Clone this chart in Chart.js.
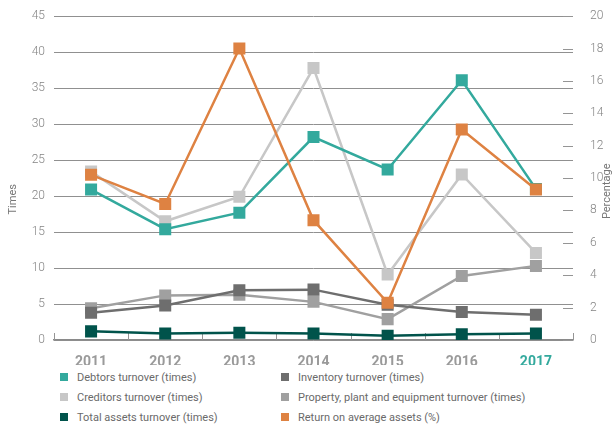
<!DOCTYPE html>
<html>
<head>
<meta charset="utf-8">
<script src="https://cdn.jsdelivr.net/npm/chart.js@4/dist/chart.umd.min.js"></script>
<style>
  html, body { margin: 0; padding: 0; background: #fff; }
  #wrap { position: relative; width: 614px; height: 429px; overflow: hidden; }
  #chart { position: absolute; left: 0; top: 0; }
  #legend {
    position: absolute; left: 60px; top: 367px;
    display: grid; grid-template-columns: 221px 300px;
    font-family: Roboto, "Liberation Sans", sans-serif; font-size: 11px; color: #6a6a6a;
  }
  .item { height: 20px; display: flex; align-items: center; white-space: nowrap; }
  .sw { width: 8px; height: 8px; margin-right: 9px; flex: none; }
</style>
</head>
<body>
<div id="wrap">
  <canvas id="chart" width="614" height="365"></canvas>
  <div id="legend"></div>
</div>
<script>
// Financial ratios 2011-2017
const years = ['2011', '2012', '2013', '2014', '2015', '2016', '2017'];
const debtorsTurnover   = [20.9, 15.4, 17.7, 28.2, 23.7, 36.1, 21.0];
const inventoryTurnover = [3.8, 4.8, 6.9, 7.0, 4.9, 3.9, 3.5];
const creditorsTurnover = [23.4, 16.5, 19.9, 37.8, 9.1, 23.0, 12.1];
const ppeTurnover       = [4.4, 6.2, 6.3, 5.3, 2.9, 8.9, 10.3];
const totalAssetsTurnover = [1.2, 0.9, 1.0, 0.9, 0.6, 0.8, 0.9];
const returnOnAssets    = [10.2, 8.4, 18.0, 7.4, 2.3, 13.0, 9.3];

const timesTicks = { min: 0, max: 45, step: 5 };
const percentTicks = { min: 0, max: 20, step: 2 };
const axisTitles = { left: 'Times', right: 'Percentage' };

function series(label, data, color, axis, order) {
  return {
    label, data, yAxisID: axis, order,
    borderColor: color, backgroundColor: color,
    borderWidth: 2.5, pointStyle: 'rect', pointRadius: 8.5,
    pointBorderWidth: 0, pointHoverRadius: 8.5, tension: 0
  };
}

// inward tick marks: category boundaries on the x axis, value marks on the right axis
const innerTicks = {
  id: 'innerTicks',
  beforeDatasetsDraw(chart) {
    const { ctx, chartArea, scales } = chart;
    ctx.save();
    ctx.strokeStyle = '#959595';
    ctx.lineWidth = 1;
    const x = scales.x;
    for (let i = 0; i <= years.length; i++) {
      const px = Math.round(x.getPixelForValue(i - 0.5)) + 0.5;
      ctx.beginPath();
      ctx.moveTo(px, chartArea.bottom);
      ctx.lineTo(px, chartArea.bottom - 7);
      ctx.stroke();
    }
    const y2 = scales.y2;
    y2.ticks.forEach(t => {
      const py = Math.round(y2.getPixelForValue(t.value)) + 0.5;
      ctx.beginPath();
      ctx.moveTo(chartArea.right - 10, py);
      ctx.lineTo(chartArea.right, py);
      ctx.stroke();
    });
    ctx.restore();
  }
};

// both axis titles read bottom-to-top
const sideTitles = {
  id: 'sideTitles',
  afterDraw(chart) {
    const { ctx, chartArea, width } = chart;
    const cy = chartArea.top + (chartArea.bottom - chartArea.top) * 0.55;
    ctx.save();
    ctx.fillStyle = '#777';
    ctx.font = '11px Roboto';
    ctx.textAlign = 'center';
    ctx.textBaseline = 'middle';
    [[13, cy + 5, axisTitles.left], [width - 7, cy - 3, axisTitles.right]].forEach(([x, y, t]) => {
      ctx.save();
      ctx.translate(x, y);
      ctx.rotate(-Math.PI / 2);
      ctx.fillText(t, 0, 0);
      ctx.restore();
    });
    ctx.restore();
  }
};

const chart = new Chart(document.getElementById('chart'), {
  type: 'line',
  data: {
    labels: years,
    datasets: [
      series('Debtors turnover (times)', debtorsTurnover, '#33a99d', 'y', 1),
      series('Inventory turnover (times)', inventoryTurnover, '#6e6e6e', 'y', 2),
      series('Creditors turnover (times)', creditorsTurnover, '#c7c7c7', 'y', 4),
      series('Property, plant and equipment turnover (times)', ppeTurnover, '#a0a0a0', 'y', 3),
      series('Total assets turnover (times)', totalAssetsTurnover, '#00534b', 'y', 5),
      series('Return on average assets (%)', returnOnAssets, '#de8242', 'y2', 0)
    ]
  },
  options: {
    responsive: false,
    animation: false,
    devicePixelRatio: 1,
    layout: { padding: { top: 15, bottom: 0, left: 0, right: 0 } },
    plugins: { legend: { display: false }, tooltip: { enabled: false } },
    scales: {
      x: {
        offset: true,
        grid: { display: false },
        border: { display: true, color: '#8a8a8a', width: 1.5 },
        ticks: {
          padding: 6,
          font: { family: 'Roboto', size: 14, weight: 'bold' },
          color: ctx => ctx.index === years.length - 1 ? '#33a99d' : '#9a9a9a'
        },
        afterFit: s => { s.height = 25; }
      },
      y: {
        position: 'left',
        min: timesTicks.min, max: timesTicks.max,
        grid: { color: '#909090', lineWidth: 1, drawTicks: false },
        border: { display: false },
        ticks: {
          stepSize: timesTicks.step, padding: 9,
          font: { family: 'Roboto', size: 12, weight: 300 }, color: '#858585'
        },
        afterFit: s => { s.width = 54; }
      },
      y2: {
        position: 'right',
        min: percentTicks.min, max: percentTicks.max,
        grid: { display: false, drawOnChartArea: false },
        border: { display: false },
        ticks: {
          stepSize: percentTicks.step, padding: 9,
          font: { family: 'Roboto', size: 12, weight: 300 }, color: '#858585'
        },
        afterFit: s => { s.width = 41; }
      }
    }
  },
  plugins: [innerTicks, sideTitles]
});

// two-column legend built from the datasets
const legend = document.getElementById('legend');
chart.data.datasets.forEach(ds => {
  const item = document.createElement('div');
  item.className = 'item';
  const sw = document.createElement('span');
  sw.className = 'sw';
  sw.style.background = ds.borderColor;
  const txt = document.createElement('span');
  txt.textContent = ds.label;
  item.appendChild(sw);
  item.appendChild(txt);
  legend.appendChild(item);
});
</script>
</body>
</html>
